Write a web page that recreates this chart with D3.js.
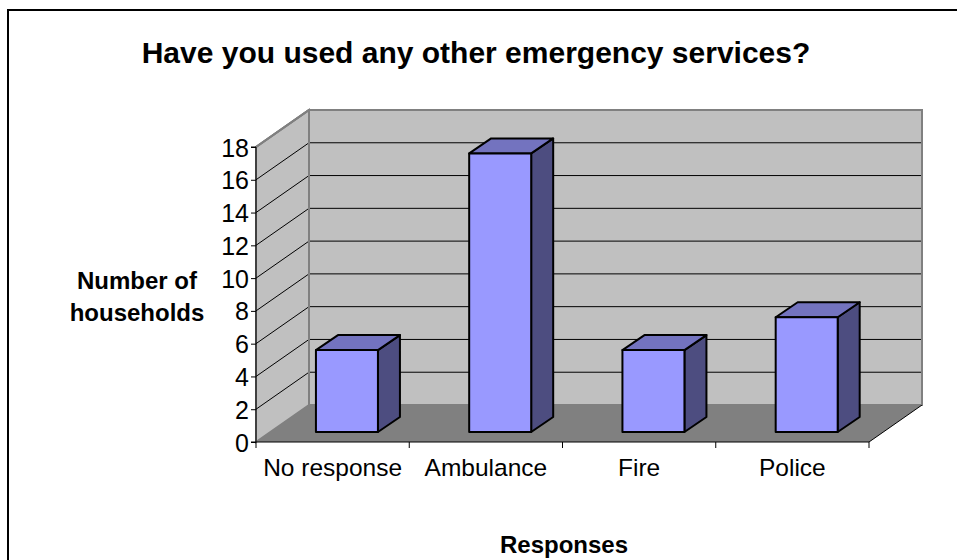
<!DOCTYPE html>
<html>
<head>
<meta charset="utf-8">
<script src="https://cdn.jsdelivr.net/npm/d3@7"></script>
<style>
  html, body { margin: 0; padding: 0; background: #fff; }
  svg { display: block; font-family: "Liberation Sans", Arial, sans-serif; }
</style>
</head>
<body>
<svg id="chart" width="957" height="560"></svg>
<script>
const categories = ["No response", "Ambulance", "Fire", "Police"];
const values = [5, 17, 5, 7];
const yTicks = [0, 2, 4, 6, 8, 10, 12, 14, 16, 18];
const title = "Have you used any other emergency services?";
const yTitle = ["Number of", "households"];
const xTitle = "Responses";

const svg = d3.select("#chart");

// outer frame
svg.append("rect").attr("x", 8).attr("y", 10).attr("width", 960).attr("height", 560)
  .attr("fill", "#fff").attr("stroke", "#000").attr("stroke-width", 2);

const x0 = 256, x1 = 869, yBase = 442, yTop = 147;
const dx = 53, dy = -37;

const y = d3.scaleLinear().domain([0, 18]).range([yBase, yTop]);
const x = d3.scaleBand().domain(categories).range([x0, x1]);

const g = svg.append("g");

// back wall
g.append("path")
  .attr("d", `M${x0+dx},${yBase+dy}L${x1+dx},${yBase+dy}L${x1+dx},${yTop+dy}L${x0+dx},${yTop+dy}Z`)
  .attr("fill", "#c0c0c0").attr("stroke", "#808080").attr("stroke-width", 2);
// side wall
g.append("path")
  .attr("d", `M${x0},${yBase}L${x0+dx},${yBase+dy}L${x0+dx},${yTop+dy}L${x0},${yTop}Z`)
  .attr("fill", "#c0c0c0").attr("stroke", "#808080").attr("stroke-width", 2);
// floor
g.append("path")
  .attr("d", `M${x0},${yBase}L${x1},${yBase}L${x1+dx},${yBase+dy}L${x0+dx},${yBase+dy}Z`)
  .attr("fill", "#808080").attr("stroke", "none");
g.append("path")
  .attr("d", `M${x1},${yBase}L${x1+dx},${yBase+dy}`)
  .attr("stroke", "#000").attr("stroke-width", 1).attr("fill", "none");

// gridlines
yTicks.filter(t => t > 0).forEach(t => {
  const yy = y(t);
  g.append("path")
    .attr("d", `M${x0},${yy}L${x0+dx},${yy+dy}L${x1+dx},${yy+dy}`)
    .attr("fill", "none")
    .attr("stroke", t === 18 ? "#808080" : "#000")
    .attr("stroke-width", t === 18 ? 2 : 1);
});
// redraw wall edges
g.append("path")
  .attr("d", `M${x0},${yTop}L${x0+dx},${yTop+dy}L${x1+dx},${yTop+dy}L${x1+dx},${yBase+dy}`)
  .attr("fill", "none").attr("stroke", "#808080").attr("stroke-width", 2);
g.append("path")
  .attr("d", `M${x0+dx},${yTop+dy}L${x0+dx},${yBase+dy}`)
  .attr("fill", "none").attr("stroke", "#808080").attr("stroke-width", 2);

// bars
const f0 = 0.27, bdx = 22, bdy = -15, bw = 62;
categories.forEach((c, i) => {
  const v = values[i];
  const left = x(c) + dx * f0 + (x.bandwidth() - bw) / 2;
  const bottom = yBase + dy * f0;
  const h = yBase - y(v);
  const top = bottom - h;
  const right = left + bw;
  const bar = g.append("g").attr("stroke", "#000").attr("stroke-width", 2).attr("stroke-linejoin", "round");
  bar.append("path")
    .attr("d", `M${right},${bottom}L${right+bdx},${bottom+bdy}L${right+bdx},${top+bdy}L${right},${top}Z`)
    .attr("fill", "#4d4d80");
  bar.append("path")
    .attr("d", `M${left},${top}L${left+bdx},${top+bdy}L${right+bdx},${top+bdy}L${right},${top}Z`)
    .attr("fill", "#7373bf");
  bar.append("rect").attr("x", left).attr("y", top).attr("width", bw).attr("height", h)
    .attr("fill", "#9999ff");
});

// y axis
const yAxis = d3.axisLeft(y).tickValues(yTicks).tickSize(5).tickPadding(2);
const ya = svg.append("g").attr("transform", `translate(${x0},0)`).call(yAxis);
ya.select(".domain").attr("stroke", "#000").attr("stroke-width", 1).attr("d", `M-5,${yBase}H0V${yTop}H-5`);
ya.selectAll(".tick line").attr("stroke", "#000");
ya.selectAll(".tick text").attr("font-size", 25).attr("fill", "#000")
  .attr("font-family", "Liberation Sans, Arial, sans-serif").attr("dy", "0.36em");

// x axis
const xAxis = d3.axisBottom(x).tickSize(0).tickPadding(17);
const xa = svg.append("g").attr("transform", `translate(0,${yBase})`).call(xAxis);
xa.select(".domain").attr("stroke", "#000").attr("stroke-width", 1).attr("d", `M${x0},0H${x1}`);
xa.selectAll(".tick text").attr("font-size", 24.5).attr("fill", "#000")
  .attr("font-family", "Liberation Sans, Arial, sans-serif");
const sepX = categories.map(c => x(c)).concat([x1]);
xa.selectAll("line.sep").data(sepX).enter().append("line")
  .attr("class", "sep").attr("x1", d => d).attr("x2", d => d)
  .attr("y1", 0).attr("y2", 6).attr("stroke", "#000");

// titles
svg.append("text").attr("x", 476).attr("y", 63).attr("text-anchor", "middle")
  .attr("font-size", 30).attr("font-weight", "bold").text(title);
svg.append("text").attr("x", 137).attr("y", 289).attr("text-anchor", "middle")
  .attr("font-size", 24).attr("font-weight", "bold")
  .selectAll("tspan").data(yTitle).enter().append("tspan")
  .attr("x", 137).attr("dy", (d, i) => i === 0 ? 0 : 32).text(d => d);
svg.append("text").attr("x", 564).attr("y", 553).attr("text-anchor", "middle")
  .attr("font-size", 24).attr("font-weight", "bold").text(xTitle);
</script>
</body>
</html>
